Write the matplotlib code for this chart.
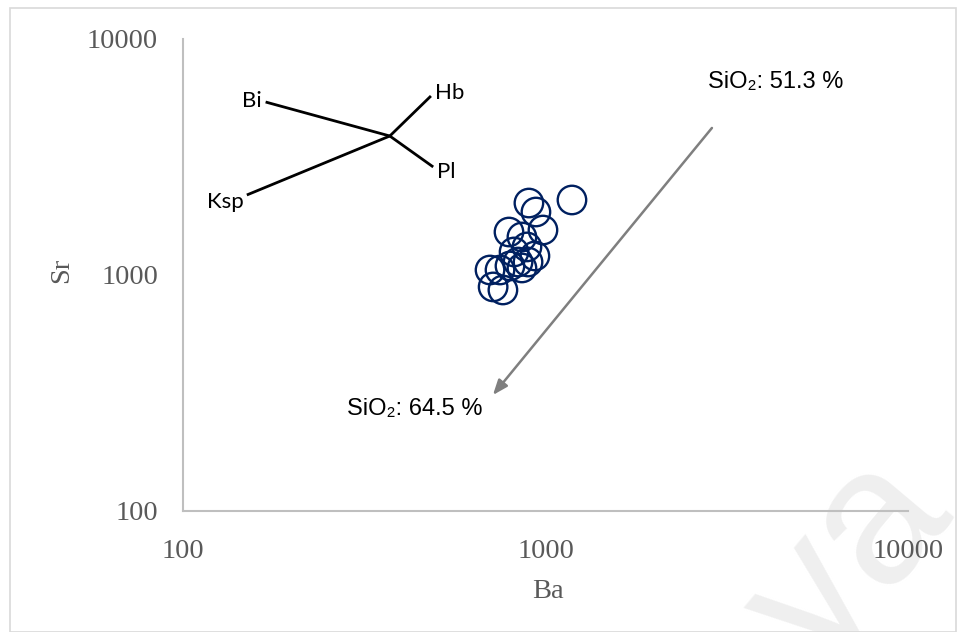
import matplotlib
matplotlib.use("Agg")
import matplotlib.pyplot as plt
from matplotlib.patches import Rectangle

# Sample compositions (ppm)
ba = [1183, 900, 941, 984, 793, 861, 889, 935, 819, 895, 840, 798, 703, 749, 861, 717, 763]
sr = [2079, 2018, 1849, 1551, 1521, 1449, 1315, 1204, 1252, 1135, 1135, 1092, 1050, 1050, 1071, 890, 864]

# Mineral fractionation vectors: common origin and end points
vec_origin = (372, 3881)
vec_names = ["Bi", "Hb", "Pl", "Ksp"]
vec_ba = [169, 483, 490, 150]
vec_sr = [5408, 5735, 2870, 2183]

# Differentiation trend arrow (high to low silica)
trend_start = (2878, 4198)
trend_end = (716, 310)
silica_labels = ["SiO\u2082: 51.3 %", "SiO\u2082: 64.5 %"]

x_ticks = [100, 1000, 10000]
y_ticks = [100, 1000, 10000]

W, H = 965, 632
fig = plt.figure(figsize=(W / 100, H / 100), dpi=100)
fig.patch.set_facecolor("white")

# light page frame and faint background lettering
fig.patches.append(Rectangle((10 / W, 0), (956 - 10) / W, (H - 8) / H,
                             transform=fig.transFigure, fill=False,
                             edgecolor="#d9d9d9", linewidth=1.2))
fig.text(950 / W, 1 - 505 / H, "Malaya", rotation=50, fontsize=140,
         color="#efefef", ha="right", va="baseline", rotation_mode="anchor",
         family="Liberation Sans", zorder=-1)

ax = fig.add_axes([183 / W, 1 - 511 / H, (908 - 183) / W, (511 - 39) / H])
ax.set_facecolor("none")
ax.set_xscale("log")
ax.set_yscale("log")
ax.set_xlim(100, 10000)
ax.set_ylim(100, 10000)

ax.scatter(ba, sr, s=20.5 ** 2, facecolors="none", edgecolors="#002060",
           linewidths=1.7, zorder=3)

for name, x, y in zip(vec_names, vec_ba, vec_sr):
    ax.plot([vec_origin[0], x], [vec_origin[1], y], color="black", lw=2.0,
            solid_capstyle="butt", zorder=2)

label_off = {"Bi": (-3, 1, "right", "center"), "Hb": (3, 2, "left", "center"),
             "Pl": (3, -4, "left", "center"), "Ksp": (-2, -5, "right", "center")}
for name, x, y in zip(vec_names, vec_ba, vec_sr):
    dx, dy, ha, va = label_off[name]
    ax.annotate(name, (x, y), xytext=(dx, dy), textcoords="offset points",
                ha=ha, va=va, fontsize=16, family="Lato", color="black")

ax.annotate("", xy=trend_end, xytext=trend_start,
            arrowprops=dict(arrowstyle="-|>,head_length=0.9,head_width=0.35",
                            color="#7f7f7f", lw=1.8, shrinkA=0, shrinkB=0))
ax.annotate(silica_labels[0], trend_start, xytext=(-3, 33), textcoords="offset points",
            ha="left", va="center", fontsize=17,
            family=["Liberation Sans", "DejaVu Sans"], color="black")
ax.annotate(silica_labels[1], trend_end, xytext=(-105, -10), textcoords="offset points",
            ha="left", va="center", fontsize=17,
            family=["Liberation Sans", "DejaVu Sans"], color="black")

for side in ["top", "right"]:
    ax.spines[side].set_visible(False)
for side in ["left", "bottom"]:
    ax.spines[side].set_color("#bfbfbf")
    ax.spines[side].set_linewidth(1.5)

ax.set_xticks(x_ticks)
ax.set_yticks(y_ticks)
ax.set_xticklabels([str(t) for t in x_ticks])
ax.set_yticklabels([str(t) for t in y_ticks])
ax.minorticks_off()
ax.tick_params(length=0, labelsize=20.5, labelcolor="#595959")
ax.tick_params(axis="x", pad=20)
ax.tick_params(axis="y", pad=18)
for lab in ax.get_xticklabels() + ax.get_yticklabels():
    lab.set_family("Liberation Serif")

ax.text(0.503, -0.17, "Ba", transform=ax.transAxes, ha="center", va="center",
        fontsize=20.5, color="#595959", family="Liberation Serif")
ax.text(-0.167, 0.51, "Sr", transform=ax.transAxes, ha="center", va="center",
        rotation=90, fontsize=20.5, color="#595959", family="Liberation Serif")

fig.savefig("out.png", dpi=100, facecolor="white")
